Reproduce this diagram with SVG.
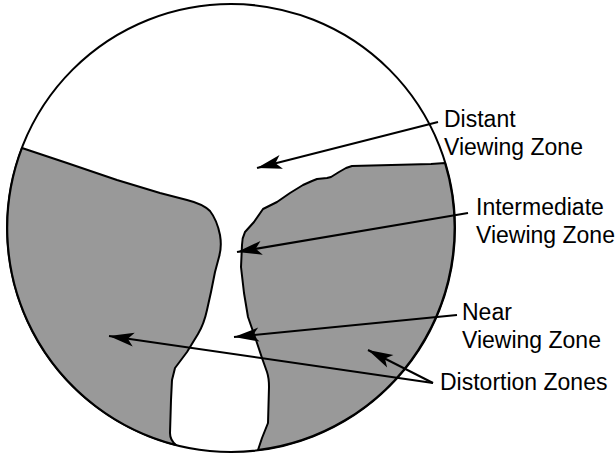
<svg xmlns="http://www.w3.org/2000/svg" width="616" height="453" viewBox="0 0 616 453">
<style>
.zone{fill:#999999;stroke:#000;stroke-width:2;stroke-linejoin:round}
.lbl{font-family:"Liberation Sans",Arial,sans-serif;font-size:23px;fill:#000}
.conn{stroke:#000;stroke-width:2;fill:none;marker-end:url(#ah)}
</style>
<defs>
<marker id="ah" markerUnits="userSpaceOnUse" viewBox="-26 -8 27 16" refX="0" refY="0" markerWidth="27" markerHeight="16" orient="auto">
<path d="M0,0 L-25,-7 L-19,0 L-25,7 Z" fill="#000"/>
</marker>
</defs>
<rect width="616" height="453" fill="#fff"/>
<g id="lens">
<circle cx="231" cy="228" r="224" fill="#fff" stroke="#000" stroke-width="2"/>
</g>
<g id="distortion-left">
<path class="zone" d="M22,148 L67,163 L117,180 L160,193 L187,200 Q203,204 210,211 Q217,220 220,235 Q222,247 219,257 L215,272 L211,292 L207,310 Q204,324 198,334 L187,352 L175,368 L172,380 L171,400 L170,433 Q170,440 176,445 A224,224 0 0 1 22,148 Z"/>
</g>
<g id="distortion-right">
<path class="zone" d="M445,163 L431,164 L352,166 L346,168 L339,172 L331,177 L327,178 L317,179 L312,181 L303,185 L290,193 L277,202 L263,209 L254,222 L245,232 Q242,238 242,245 L241,267 L244,293 L248,317 L256,340 L262,358 L267,372 Q269,378 269,387 L268,423 L262,438 L258,450 A224,224 0 0 0 445,163 Z"/>
</g>
<g id="connectors">
<line class="conn" x1="438" y1="122" x2="257" y2="168"/>
<line class="conn" x1="468" y1="213" x2="237" y2="252"/>
<line class="conn" x1="457" y1="315" x2="234" y2="337"/>
<line class="conn" x1="433" y1="383" x2="109" y2="336"/>
<line class="conn" x1="433" y1="383" x2="368" y2="350"/>
</g>
<g id="label-distant">
<text class="lbl" x="444" y="127">Distant</text>
<text class="lbl" x="444" y="155">Viewing Zone</text>
</g>
<g id="label-intermediate">
<text class="lbl" x="476" y="215">Intermediate</text>
<text class="lbl" x="476" y="243">Viewing Zone</text>
</g>
<g id="label-near">
<text class="lbl" x="462" y="320">Near</text>
<text class="lbl" x="462" y="348">Viewing Zone</text>
</g>
<g id="label-distortion">
<text class="lbl" x="440" y="390">Distortion Zones</text>
</g>
</svg>
